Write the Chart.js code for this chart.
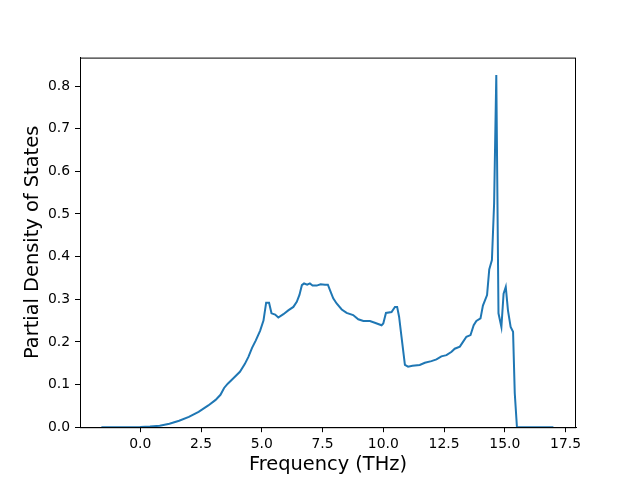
<!DOCTYPE html>
<html>
<head>
<meta charset="utf-8">
<script src="https://cdn.jsdelivr.net/npm/chart.js@4"></script>
<style>
  body { margin: 0; background: #fff; }
</style>
</head>
<body>
<canvas id="chart" width="640" height="480"></canvas>
<script>
// Frequency points (THz) and partial DOS
const frequencies = [
  -1.6, -1.0, -0.5, 0.0, 0.4, 0.8, 1.2, 1.6, 2.0, 2.4, 2.8, 3.1, 3.3, 3.45, 3.6, 3.8,
  4.1, 4.3, 4.45, 4.6, 4.75, 4.93, 5.07, 5.18, 5.30, 5.40, 5.55, 5.68, 5.89, 6.09,
  6.30, 6.44, 6.55, 6.65, 6.74, 6.87, 6.98, 7.09, 7.26, 7.42, 7.60, 7.72, 7.81, 7.94,
  8.08, 8.29, 8.49, 8.76, 8.97, 9.18, 9.45, 9.65, 9.93, 10.0, 10.11, 10.34, 10.48,
  10.57, 10.65, 10.75, 10.89, 11.02, 11.2, 11.50, 11.71, 11.98, 12.19, 12.39, 12.60,
  12.81, 12.94, 13.15, 13.28, 13.42, 13.59, 13.72, 13.83, 14.0, 14.1, 14.27, 14.36,
  14.47, 14.56, 14.65, 14.74, 14.86, 14.95, 15.04, 15.13, 15.24, 15.34, 15.41, 15.50,
  16.0, 16.5, 17.0
];
const pdos = [
  0, 0, 0, 0.0005, 0.0015, 0.0035, 0.008, 0.015, 0.024, 0.036, 0.051, 0.064, 0.076, 0.092, 0.102, 0.113,
  0.130, 0.148, 0.165, 0.186, 0.203, 0.226, 0.250, 0.292, 0.292, 0.267, 0.264, 0.257, 0.265, 0.274,
  0.282, 0.294, 0.310, 0.333, 0.337, 0.334, 0.337, 0.332, 0.332, 0.335, 0.334, 0.334, 0.321, 0.302,
  0.290, 0.276, 0.268, 0.263, 0.253, 0.249, 0.249, 0.245, 0.239, 0.243, 0.268, 0.270, 0.282,
  0.282, 0.259, 0.212, 0.146, 0.142, 0.144, 0.146, 0.151, 0.155, 0.159, 0.166, 0.169,
  0.177, 0.184, 0.189, 0.200, 0.212, 0.216, 0.239, 0.249, 0.255, 0.285, 0.310, 0.370,
  0.392, 0.524, 0.826, 0.267, 0.235, 0.313, 0.329, 0.274, 0.235, 0.224, 0.080, 0,
  0, 0, 0
];
const xTicks = [0, 2.5, 5, 7.5, 10, 12.5, 15, 17.5];
const yTicks = [0, 0.1, 0.2, 0.3, 0.4, 0.5, 0.6, 0.7, 0.8];

const points = frequencies.map((f, i) => ({ x: f, y: pdos[i] }));

// draw the box round the plot area like matplotlib does
const frame = {
  id: 'frame',
  afterDraw(chart) {
    const a = chart.chartArea;
    const ctx = chart.ctx;
    ctx.save();
    ctx.strokeStyle = '#000';
    ctx.lineWidth = 1;
    ctx.strokeRect(a.left + 0.5, a.top + 0.5, a.right - a.left - 1, a.bottom - a.top);
    ctx.restore();
  }
};

const tickFont = { family: 'DejaVu Sans', size: 13.9 };
const titleFont = { family: 'DejaVu Sans', size: 19.4 };

new Chart(document.getElementById('chart').getContext('2d'), {
  type: 'line',
  data: {
    datasets: [{
      data: points,
      borderColor: '#1f77b4',
      borderWidth: 2,
      pointRadius: 0,
      tension: 0,
      fill: false
    }]
  },
  options: {
    responsive: false,
    animation: false,
    layout: { padding: { top: 57.6, right: 64, left: 0, bottom: 0 } },
    plugins: { legend: { display: false }, tooltip: { enabled: false } },
    scales: {
      x: {
        type: 'linear',
        min: -2.48,
        max: 17.93,
        afterBuildTicks: s => { s.ticks = xTicks.map(v => ({ value: v })); },
        afterFit: s => { s.height = 52.8; },
        ticks: {
          color: '#000',
          font: tickFont,
          padding: 4,
          maxRotation: 0,
          callback: v => v.toFixed(1)
        },
        grid: { drawOnChartArea: false, drawTicks: true, tickLength: 5, color: '#000' },
        border: { display: true, color: '#000' },
        title: {
          display: true,
          text: 'Frequency (THz)',
          color: '#000',
          font: titleFont,
          padding: { top: 0, bottom: 3.5 }
        }
      },
      y: {
        type: 'linear',
        min: 0,
        max: 0.8666,
        afterBuildTicks: s => { s.ticks = yTicks.map(v => ({ value: v })); },
        afterFit: s => { s.width = 80; },
        ticks: {
          color: '#000',
          font: tickFont,
          padding: 5,
          callback: v => v.toFixed(1)
        },
        grid: { drawOnChartArea: false, drawTicks: true, tickLength: 5, color: '#000' },
        border: { display: true, color: '#000' },
        title: {
          display: true,
          text: 'Partial Density of States',
          color: '#000',
          font: titleFont,
          padding: { top: 21, bottom: 0 }
        }
      }
    }
  },
  plugins: [frame]
});
</script>
</body>
</html>
